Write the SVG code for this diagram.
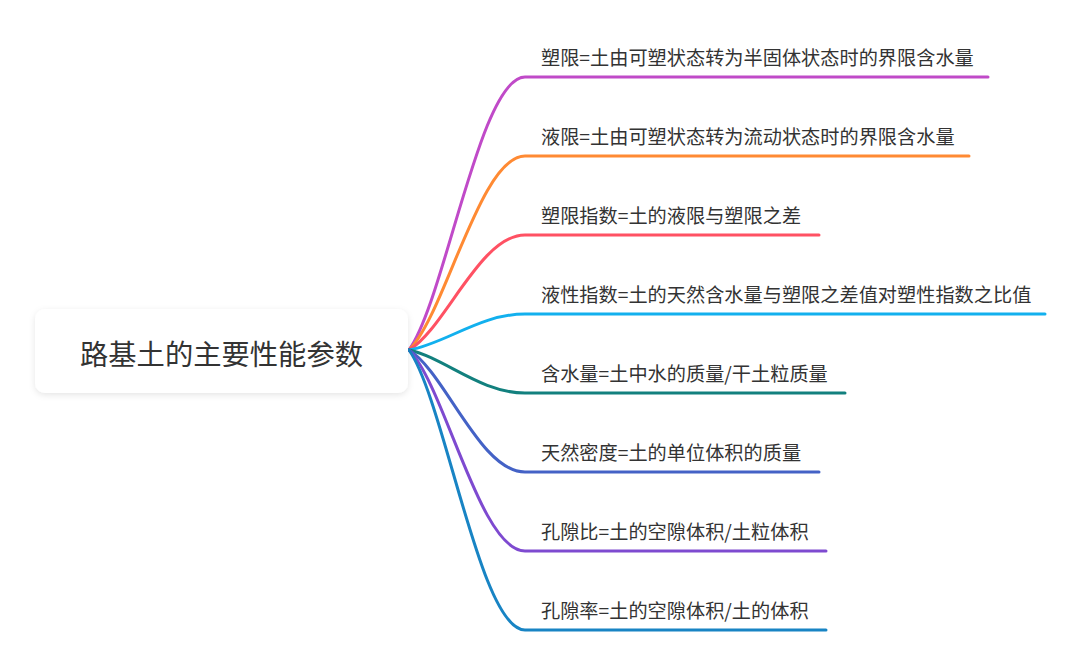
<svg xmlns="http://www.w3.org/2000/svg" width="1080" height="667" viewBox="0 0 1080 667">
  <defs>
    <filter id="shadow" x="-10%" y="-30%" width="120%" height="160%">
      <feDropShadow dx="0" dy="2" stdDeviation="3" flood-color="#000" flood-opacity="0.10"/>
    </filter>
  </defs>
  <style>
    .lbl { font-family: "Noto Sans CJK SC", "Noto Sans", sans-serif; font-size: 19.2px; fill: #333; dominant-baseline: central; }
    .root { font-family: "Noto Sans CJK SC", "Noto Sans", sans-serif; font-size: 28.3px; fill: #333; text-anchor: middle; dominant-baseline: central; }
    .br { fill: none; stroke-width: 3; stroke-linecap: round; }
  </style>
  <rect width="1080" height="667" fill="#fff"/>
  <g id="connectors">
    <path class="br" stroke="#C04AC8" d="M409,350 C445,300 480,77 525,77 L988,77"/>
    <path class="br" stroke="#FF8A33" d="M409,350 C445,315 480,156 525,156 L969,156"/>
    <path class="br" stroke="#FF5163" d="M409,350 C445,329 480,235 525,235 L819,235"/>
    <path class="br" stroke="#12B0EE" d="M409,350 C445,344 480,314 525,314 L1045,314"/>
    <path class="br" stroke="#12807E" d="M409,350 C445,358 480,393 525,393 L845,393"/>
    <path class="br" stroke="#4462C6" d="M409,350 C445,372 480,472 525,472 L819,472"/>
    <path class="br" stroke="#7E4AD0" d="M409,350 C445,386 480,551 525,551 L826,551"/>
    <path class="br" stroke="#1884C4" d="M409,350 C445,401 480,630 525,630 L826,630"/>
  </g>
  <g id="root">
    <rect x="35" y="309" width="373" height="84" rx="10" fill="#fff" filter="url(#shadow)"/>
    <text class="root" x="221.5" y="352">路基土的主要性能参数</text>
  </g>
  <g id="n1"><text class="lbl" x="541" y="57">塑限=土由可塑状态转为半固体状态时的界限含水量</text></g>
  <g id="n2"><text class="lbl" x="541" y="136">液限=土由可塑状态转为流动状态时的界限含水量</text></g>
  <g id="n3"><text class="lbl" x="541" y="215">塑限指数=土的液限与塑限之差</text></g>
  <g id="n4"><text class="lbl" x="541" y="294">液性指数=土的天然含水量与塑限之差值对塑性指数之比值</text></g>
  <g id="n5"><text class="lbl" x="541" y="373">含水量=土中水的质量/干土粒质量</text></g>
  <g id="n6"><text class="lbl" x="541" y="452">天然密度=土的单位体积的质量</text></g>
  <g id="n7"><text class="lbl" x="541" y="531">孔隙比=土的空隙体积/土粒体积</text></g>
  <g id="n8"><text class="lbl" x="541" y="610">孔隙率=土的空隙体积/土的体积</text></g>
</svg>
